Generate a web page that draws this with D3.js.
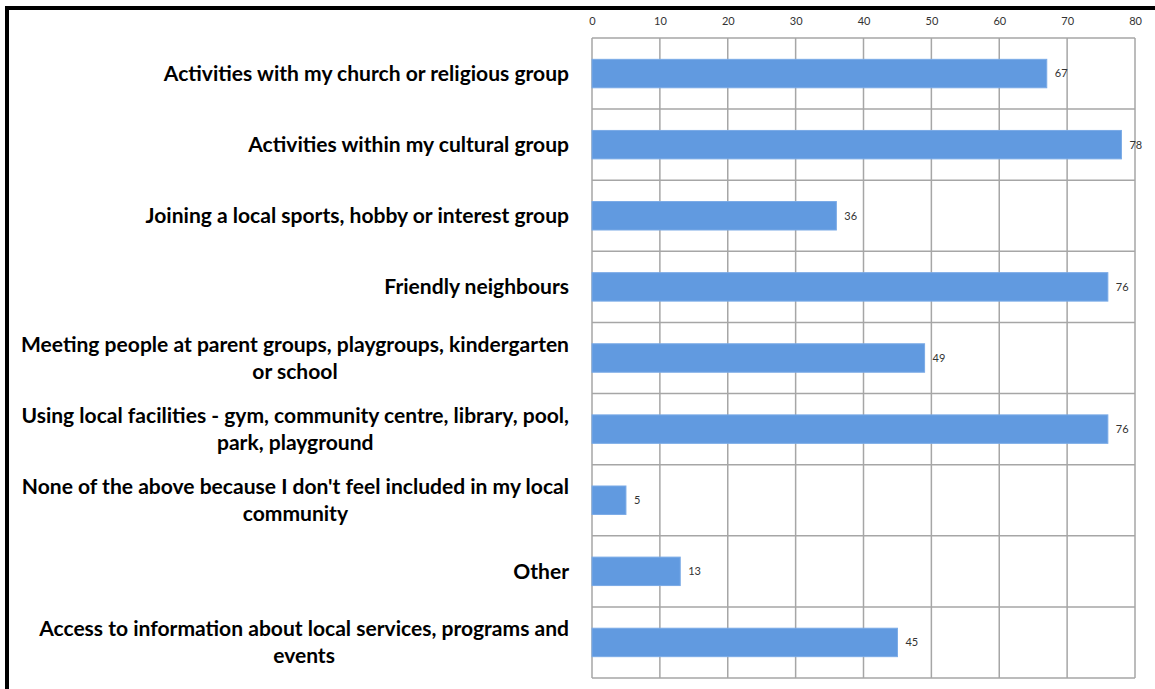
<!DOCTYPE html>
<html><head><meta charset="utf-8">
<script src="https://cdn.jsdelivr.net/npm/d3@7/dist/d3.min.js"></script>
<style>body{margin:0;background:#fff}svg{display:block}</style>
</head><body>
<svg id="c" width="1155" height="689"></svg>
<script>
const categories = [
  ["Activities with my church or religious group"],
  ["Activities within my cultural group"],
  ["Joining a local sports, hobby or interest group"],
  ["Friendly neighbours"],
  ["Meeting people at parent groups, playgroups, kindergarten", "or school"],
  ["Using local facilities - gym, community centre, library, pool,", "park, playground"],
  ["None of the above because I don't feel included in my local", "community"],
  ["Other"],
  ["Access to information about local services, programs and", "events"]
];
const values = [67, 78, 36, 76, 49, 76, 5, 13, 45];
const tickValues = [0, 10, 20, 30, 40, 50, 60, 70, 80];

const svg = d3.select("#c");
const x = d3.scaleLinear().domain([0, 80]).range([592, 1135]);
const y = d3.scaleBand().domain(d3.range(categories.length)).range([38, 678]).padding(0);
const barH = y.bandwidth() * 0.4;
const gridColor = "#a6a6a6";

// frame
svg.append("rect").attr("x", 7).attr("y", 8).attr("width", 1160).attr("height", 700)
  .attr("fill", "none").attr("stroke", "#000").attr("stroke-width", 4);

// vertical grid
svg.append("g").selectAll("line").data(tickValues).join("line")
  .attr("x1", d => x(d)).attr("x2", d => x(d))
  .attr("y1", 38).attr("y2", 678)
  .attr("stroke", gridColor).attr("stroke-width", 1.5);
// horizontal grid (row boundaries)
const bounds = d3.range(categories.length + 1).map(i => i < categories.length ? y(i) : y(categories.length - 1) + y.step());
svg.append("g").selectAll("line").data(bounds).join("line")
  .attr("x1", x(0)).attr("x2", x(80))
  .attr("y1", d => d).attr("y2", d => d)
  .attr("stroke", gridColor).attr("stroke-width", 1.5);

// top axis
const axis = d3.axisTop(x).tickValues(tickValues).tickSize(0).tickPadding(0);
const ax = svg.append("g").attr("transform", "translate(0,25)").call(axis);
ax.select(".domain").remove();
ax.selectAll("text").attr("font-family", "Lato, 'Open Sans', sans-serif").attr("font-size", 11).attr("fill", "#333");

// bars
svg.append("g").selectAll("rect").data(values).join("rect")
  .attr("x", x(0)).attr("y", (d, i) => y(i) + y.bandwidth() / 2 - barH / 2)
  .attr("width", d => x(d) - x(0)).attr("height", barH)
  .attr("fill", "#619ae0").attr("stroke", "#7aaae6").attr("stroke-width", 1);

// value labels
svg.append("g").selectAll("text").data(values).join("text")
  .attr("x", d => x(d) + 8).attr("y", (d, i) => y(i) + y.bandwidth() / 2)
  .attr("dy", "0.35em").attr("font-family", "Lato, 'Open Sans', sans-serif")
  .attr("font-size", 11).attr("fill", "#333").text(d => d);

// category labels
const labelRight = 569;
const lg = svg.append("g").attr("font-family", "Lato, sans-serif").attr("font-weight", "bold")
  .attr("fill", "#000");
let fs = 17.5;
// fit font size so label widths approximate the reference
const p1 = lg.append("text").attr("font-size", fs).text(categories[0][0]);
const p2 = lg.append("text").attr("font-size", fs).text(categories[4][0]);
const wsum = p1.node().getComputedTextLength() + p2.node().getComputedTextLength();
fs = fs * (403 + 551) / wsum;
p1.remove(); p2.remove();
categories.forEach((lines, i) => {
  const cy = y(i) + y.bandwidth() / 2;
  const texts = lines.map((ln, j) => lg.append("text").attr("font-size", fs)
    .attr("y", cy + (j - (lines.length - 1) / 2) * 27).attr("dy", "0.35em").text(ln));
  const widths = texts.map(t => t.node().getComputedTextLength());
  const bw = d3.max(widths);
  const centerX = labelRight - bw / 2;
  texts.forEach((t, j) => {
    if (lines.length === 1) t.attr("x", labelRight).attr("text-anchor", "end");
    else t.attr("x", centerX).attr("text-anchor", "middle");
  });
});
</script>
</body></html>
